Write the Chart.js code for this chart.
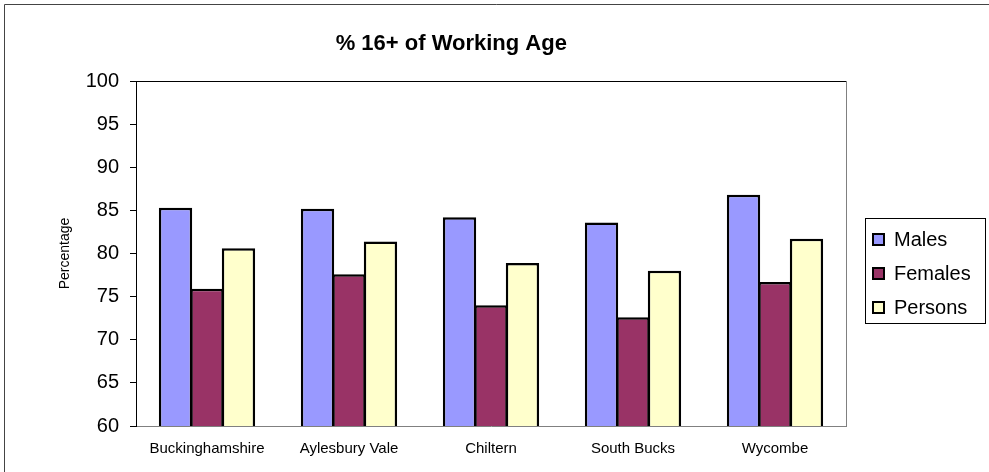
<!DOCTYPE html>
<html>
<head>
<meta charset="utf-8">
<script src="https://cdn.jsdelivr.net/npm/chart.js@4.4.0/dist/chart.umd.min.js"></script>
<style>
  html, body { margin: 0; padding: 0; background: #fff; }
  #wrap { width: 989px; height: 472px; position: relative; }
</style>
</head>
<body>
<div id="wrap"><canvas id="work_age"></canvas></div>
<script>
const areas = ['Buckinghamshire', 'Aylesbury Vale', 'Chiltern', 'South Bucks', 'Wycombe'];
const males = [85.3, 85.2, 84.2, 83.6, 86.8];
const females = [75.9, 77.6, 74.0, 72.6, 76.7];
const persons = [80.6, 81.4, 78.9, 78.0, 81.7];
const series_names = ['Males', 'Females', 'Persons'];

const FONT = "'Liberation Sans', Arial, sans-serif";

// frame around the plot and the chart, plus the boxed legend on the right
const excelBits = {
    id: 'excelBits',
    afterDraw(chart) {
        const ctx = chart.ctx;
        const a = chart.chartArea;
        ctx.save();
        // outer chart border
        ctx.strokeStyle = '#444';
        ctx.lineWidth = 1;
        ctx.beginPath();
        ctx.moveTo(4.5, 472);
        ctx.lineTo(4.5, 4.5);
        ctx.lineTo(989, 4.5);
        ctx.stroke();
        // plot area: top black, right grey
        ctx.strokeStyle = '#000';
        ctx.beginPath();
        ctx.moveTo(a.left, Math.round(a.top) + 0.5);
        ctx.lineTo(a.right, Math.round(a.top) + 0.5);
        ctx.stroke();
        ctx.strokeStyle = '#808080';
        ctx.beginPath();
        ctx.moveTo(Math.round(a.right) + 0.5, a.top);
        ctx.lineTo(Math.round(a.right) + 0.5, a.bottom);
        ctx.stroke();

        // legend
        ctx.strokeStyle = '#000';
        ctx.strokeRect(865.5, 218.5, 120, 105);
        const rows = [239, 273, 307];
        ctx.font = '20px ' + FONT;
        ctx.textBaseline = 'middle';
        ctx.textAlign = 'left';
        chart.data.datasets.forEach((ds, i) => {
            const y = rows[i];
            ctx.fillStyle = ds.backgroundColor;
            ctx.fillRect(873, y - 5, 11, 11);
            ctx.lineWidth = 2;
            ctx.strokeStyle = '#000';
            ctx.strokeRect(873, y - 5, 11, 11);
            ctx.fillStyle = '#000';
            ctx.fillText(ds.label, 894, y + 1);
        });
        ctx.restore();
    }
};

function barSet(label, data, colour) {
    return {
        label: label,
        data: data,
        backgroundColor: colour,
        borderColor: '#000',
        borderWidth: 2.5,
        borderSkipped: false,
        categoryPercentage: 0.665,
        barPercentage: 1.06,
    };
}

const work_age = document.getElementById('work_age');
const work_age1 = new Chart(work_age, {
    type: 'bar',
    data: {
        labels: areas,
        datasets: [
            barSet(series_names[0], males, '#9999FF'),
            barSet(series_names[1], females, '#993366'),
            barSet(series_names[2], persons, '#FFFFCC'),
        ],
    },
    options: {
        responsive: true,
        maintainAspectRatio: false,
        animation: false,
        devicePixelRatio: 1,
        layout: { padding: { left: 56.6, right: 143, top: 0, bottom: 0 } },
        plugins: {
            legend: { display: false },
            tooltip: { enabled: false },
            title: {
                display: true,
                text: '% 16+ of Working Age',
                color: '#000',
                font: { family: FONT, size: 22, weight: 'bold' },
                padding: { top: 31, bottom: 23.6 },
            },
        },
        scales: {
            x: {
                afterFit(scale) { scale.height = 46; },
                grid: { display: false, drawTicks: false },
                border: { display: true, color: '#808080', width: 1 },
                ticks: {
                    color: '#000',
                    padding: 14,
                    maxRotation: 0,
                    font: { family: FONT, size: 15 },
                },
            },
            y: {
                min: 60,
                max: 100,
                afterFit(scale) { scale.width = 79.4; },
                grid: { drawOnChartArea: false, drawTicks: true, tickLength: 6, color: '#000' },
                border: { display: true, color: '#000', width: 1 },
                ticks: {
                    stepSize: 5,
                    color: '#000',
                    padding: 11,
                    font: { family: FONT, size: 20 },
                },
                title: {
                    display: true,
                    text: 'Percentage',
                    color: '#000',
                    padding: 0,
                    font: { family: FONT, size: 14 },
                },
            },
        },
    },
    plugins: [excelBits],
});
</script>
</body>
</html>
